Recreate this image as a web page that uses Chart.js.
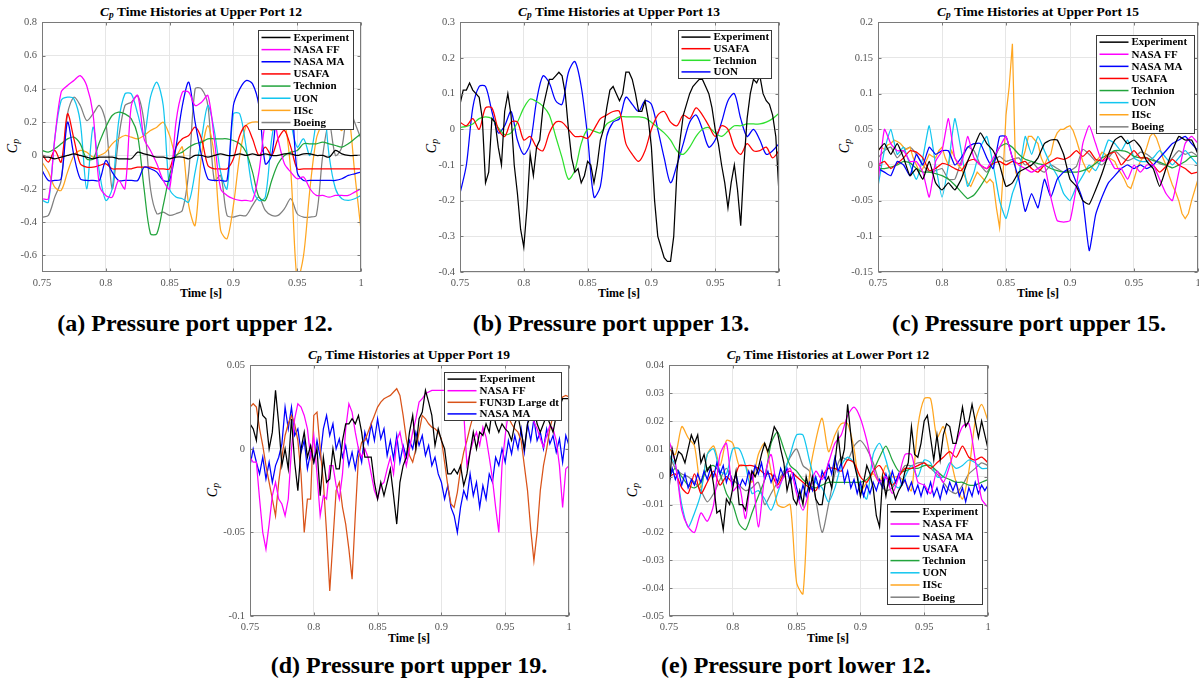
<!DOCTYPE html>
<html>
<head>
<meta charset="utf-8">
<script src="https://cdn.jsdelivr.net/npm/chart.js@4.4.1/dist/chart.umd.min.js"></script>
<style>
  body { margin: 0; background: #fff; width: 1199px; height: 681px; position: relative; overflow: hidden; font-family: "Liberation Serif", serif; }
  canvas { position: absolute; }
  .ttl { position: absolute; font-weight: bold; font-size: 13.5px; white-space: nowrap; transform: translate(-50%, -50%); }
  .xl { position: absolute; font-weight: bold; font-size: 12px; white-space: nowrap; transform: translate(-50%, -50%); }
  .yl { position: absolute; font-style: italic; font-size: 14px; white-space: nowrap; transform: translate(-50%, -50%) rotate(-90deg); }
  .cap { position: absolute; font-weight: bold; font-size: 24px; white-space: nowrap; transform: translate(-50%, -50%); }
  sub { font-size: 0.7em; vertical-align: -0.25em; }
</style>
</head>
<body>
<div class="ttl" style="left:201px;top:12px"><i>C<sub>p</sub></i> Time Histories at Upper Port 12</div>
<div class="ttl" style="left:619px;top:12px"><i>C<sub>p</sub></i> Time Histories at Upper Port 13</div>
<div class="ttl" style="left:1038px;top:12px"><i>C<sub>p</sub></i> Time Histories at Upper Port 15</div>
<div class="ttl" style="left:409px;top:355px"><i>C<sub>p</sub></i> Time Histories at Upper Port 19</div>
<div class="ttl" style="left:828px;top:355px"><i>C<sub>p</sub></i> Time Histories at Lower Port 12</div>

<div class="xl" style="left:201px;top:293px">Time [s]</div>
<div class="xl" style="left:619px;top:293px">Time [s]</div>
<div class="xl" style="left:1038px;top:293px">Time [s]</div>
<div class="xl" style="left:409px;top:638px">Time [s]</div>
<div class="xl" style="left:828px;top:638px">Time [s]</div>

<div class="yl" style="left:13px;top:146px">C<sub>p</sub></div>
<div class="yl" style="left:432px;top:146px">C<sub>p</sub></div>
<div class="yl" style="left:845px;top:146px">C<sub>p</sub></div>
<div class="yl" style="left:213px;top:490px">C<sub>p</sub></div>
<div class="yl" style="left:633px;top:490px">C<sub>p</sub></div>

<div class="cap" style="left:195px;top:323px">(a) Pressure port upper 12.</div>
<div class="cap" style="left:611px;top:323px">(b) Pressure port upper 13.</div>
<div class="cap" style="left:1029px;top:323px">(c) Pressure port upper 15.</div>
<div class="cap" style="left:409px;top:665px">(d) Pressure port upper 19.</div>
<div class="cap" style="left:796px;top:665px">(e) Pressure port lower 12.</div>

<script>
// ---------- Time grids and ticks ----------
function timeGrid(step) {
  const n = Math.round(0.25 / step);
  const out = [];
  for (let i = 0; i <= n; i++) out.push(Math.round((0.75 + i * step) * 10000) / 10000);
  return out;
}
const t5 = timeGrid(0.005);
const t25 = timeGrid(0.0025);

const timeTicks = [0.75, 0.8, 0.85, 0.9, 0.95, 1];
const up12Ticks = [-0.6, -0.4, -0.2, 0, 0.2, 0.4, 0.6, 0.8];
const up13Ticks = [-0.4, -0.3, -0.2, -0.1, 0, 0.1, 0.2, 0.3];
const up15Ticks = [-0.15, -0.1, -0.05, 0, 0.05, 0.1, 0.15, 0.2];
const up19Ticks = [-0.1, -0.05, 0, 0.05];
const lo12Ticks = [-0.05, -0.04, -0.03, -0.02, -0.01, 0, 0.01, 0.02, 0.03, 0.04];

// ---------- (a) Upper port 12 ----------
const up12Experiment = [-0.01,-0.01,-0.02,-0.01,0.0,0.01,0.0,-0.01,-0.02,-0.01,
  -0.01,-0.01,-0.02,-0.02,-0.02,0.02,0.01,0.0,-0.01,-0.01,
  -0.02,-0.01,-0.01,-0.02,0.0,0.0,-0.01,0.0,0.01,0.0,
  0.0,0.01,0.0,0.01,0.0,0.01,0.0,0.0,0.01,0.01,
  0.0,0.01,0.01,0.0,0.0,-0.01,0.03,0.01,0.0,0.0,0.0];
const up12NasaFF = [-0.26,-0.26,0.1,0.38,0.42,0.45,0.48,0.42,0.25,-0.18,
  -0.24,-0.25,-0.15,-0.2,0.3,0.36,0.1,0.03,-0.05,-0.15,
  -0.2,0.2,0.38,0.38,0.3,0.32,0.36,0.1,-0.2,-0.24,
  -0.26,-0.27,-0.27,-0.27,-0.1,0.2,0.3,0.1,-0.05,-0.1,
  -0.14,-0.13,-0.2,-0.24,-0.24,-0.25,-0.24,-0.24,-0.24,-0.22,-0.2];
const up12NasaMA = [-0.09,-0.15,-0.15,-0.14,0.2,0.0,-0.14,-0.15,-0.15,-0.15,
  -0.03,-0.1,-0.15,-0.15,-0.15,-0.15,-0.07,-0.08,-0.1,-0.15,
  -0.15,0.05,0.3,0.44,0.2,0.0,-0.14,-0.15,-0.15,-0.15,
  0.3,0.4,0.45,0.43,0.3,-0.05,0.0,0.3,0.2,0.35,
  -0.1,-0.15,-0.15,-0.15,-0.15,-0.15,-0.15,-0.14,-0.12,-0.11,-0.1];
const up12USAFA = [0.01,-0.04,0.03,-0.04,0.25,0.1,-0.05,-0.07,-0.07,-0.06,
  -0.05,-0.08,-0.08,-0.08,-0.08,-0.07,-0.07,-0.07,-0.08,-0.08,
  -0.08,0.05,0.1,0.12,0.17,0.1,-0.06,-0.08,-0.08,-0.08,
  -0.02,0.12,0.18,0.1,0.0,0.05,0.0,0.1,0.15,0.05,
  -0.08,-0.08,-0.08,-0.08,-0.08,-0.08,-0.08,-0.08,-0.08,-0.08,-0.08];
const up12Technion = [0.03,0.02,0.04,0.07,0.1,0.11,0.07,-0.02,-0.02,0.08,
  0.17,0.24,0.26,0.25,0.22,0.12,-0.2,-0.47,-0.47,-0.3,
  -0.12,0.0,0.02,0.05,0.07,0.08,0.1,0.1,0.1,0.1,
  0.09,0.07,0.02,-0.1,-0.25,-0.27,-0.15,-0.05,0.0,0.02,
  0.03,0.07,0.07,0.07,0.08,0.07,0.06,0.05,0.07,0.1,0.13];
const up12UON = [-0.27,-0.28,0.1,0.33,0.35,0.34,0.2,-0.2,0.17,-0.1,
  -0.27,-0.2,0.2,0.37,0.37,0.25,0.12,0.35,0.44,0.3,
  -0.2,-0.25,-0.26,-0.28,-0.1,0.1,0.3,0.15,-0.1,-0.2,
  0.25,0.25,0.05,-0.2,-0.27,-0.25,0.1,0.3,0.4,0.2,
  0.05,0.1,0.0,0.2,0.35,0.0,-0.2,-0.26,-0.27,-0.26,-0.24];
const up12IISc = [-0.04,-0.1,-0.19,-0.21,-0.1,0.0,0.03,0.02,-0.01,0.0,
  0.02,0.07,0.1,0.12,0.11,0.1,0.12,0.15,0.17,0.2,
  0.12,0.0,0.05,-0.3,-0.42,0.0,0.18,0.0,-0.45,-0.5,
  -0.3,0.0,0.18,0.2,0.2,0.18,0.15,0.17,0.2,-0.1,
  -0.75,-0.6,-0.2,0.1,0.2,0.28,0.2,0.15,0.25,-0.1,-0.45];
const up12Boeing = [-0.37,-0.36,-0.25,-0.15,0.25,0.35,0.3,0.21,0.25,0.3,
  0.2,-0.2,0.1,0.3,0.32,0.36,0.2,-0.2,-0.35,-0.34,
  -0.36,-0.35,-0.33,-0.1,0.4,0.4,0.3,-0.15,-0.12,-0.36,
  -0.37,-0.36,-0.36,-0.3,-0.25,-0.33,-0.36,-0.36,-0.32,-0.26,
  -0.35,-0.37,-0.37,-0.36,0.0,0.2,0.0,0.05,0.3,0.2,0.1];

// ---------- (b) Upper port 13 ----------
const up13Experiment = [0.07,0.11,0.11,0.13,0.11,0.1,0.09,0.03,-0.15,-0.12,
  0.03,0.02,-0.05,-0.1,0.05,0.1,0.04,-0.1,-0.18,-0.28,
  -0.33,-0.22,-0.07,-0.13,-0.05,-0.03,0.06,0.1,0.14,0.14,
  0.15,0.16,0.15,0.1,0.0,-0.08,-0.12,-0.11,-0.15,-0.13,
  -0.09,-0.1,-0.15,-0.1,-0.03,0.0,0.06,0.11,0.12,0.1,
  0.08,0.1,0.16,0.16,0.14,0.1,0.05,0.05,0.08,0.03,
  -0.05,-0.2,-0.3,-0.33,-0.36,-0.37,-0.37,-0.3,-0.12,-0.03,
  0.04,0.07,0.1,0.12,0.13,0.14,0.14,0.12,0.1,0.06,
  0.0,-0.04,-0.1,-0.15,-0.22,-0.15,-0.1,-0.17,-0.27,-0.1,
  0.03,0.1,0.14,0.13,0.15,0.1,0.08,0.07,0.04,-0.02,
  -0.18];
const up13USAFA = [0.02,0.01,0.03,0.0,0.06,0.06,0.0,-0.02,0.02,0.02,
  -0.03,-0.02,-0.05,-0.06,-0.01,0.02,0.02,0.0,-0.02,-0.02,
  -0.025,0.0,0.03,0.04,0.05,0.05,-0.04,-0.07,-0.09,-0.06,
  0.0,0.04,0.05,0.02,0.01,0.04,0.03,0.06,0.04,0.01,
  -0.02,0.01,0.0,-0.05,-0.07,-0.04,-0.06,-0.06,-0.05,-0.08,-0.06];
const up13Technion = [0.005,0.008,0.015,0.03,0.035,0.03,0.005,-0.015,-0.01,0.02,
  0.06,0.085,0.078,0.065,0.04,-0.02,-0.08,-0.14,-0.115,-0.04,
  0.0,-0.005,-0.01,0.015,0.025,0.035,0.035,0.035,0.035,0.032,
  0.02,0.005,-0.01,-0.03,-0.06,-0.07,-0.05,-0.02,0.0,0.005,
  -0.01,-0.02,-0.005,0.01,0.01,0.015,0.015,0.015,0.02,0.03,0.045];
const up13UON = [-0.18,-0.1,0.06,0.12,0.12,0.05,-0.01,0.01,0.05,-0.03,
  -0.07,-0.04,0.08,0.15,0.13,0.08,0.07,0.16,0.19,0.12,
  -0.02,-0.19,-0.16,-0.02,0.02,0.03,0.09,0.07,0.05,0.08,
  0.07,0.0,-0.08,-0.15,-0.1,-0.04,0.02,0.04,0.0,-0.05,
  -0.03,0.02,0.08,0.1,0.03,-0.02,0.0,-0.03,-0.07,-0.06,-0.04];

// ---------- (c) Upper port 15 ----------
const up15Experiment = [0.02,0.03,0.015,0.03,0.01,-0.015,-0.005,-0.02,0.005,-0.025,
  -0.035,-0.025,-0.035,-0.02,0.005,0.025,0.045,0.03,0.02,0.0,
  -0.03,-0.025,-0.01,-0.005,0.0,0.01,0.03,0.035,0.035,0.015,
  -0.02,-0.03,-0.05,-0.055,-0.035,-0.012,0.015,0.035,0.04,0.03,
  0.035,0.025,0.005,-0.005,-0.03,-0.005,0.02,0.04,0.035,0.035,0.015];
const up15NasaFF = [-0.025,0.05,0.03,0.02,0.02,0.005,0.005,-0.01,-0.045,0.005,
  0.02,0.065,0.01,0.0,0.04,0.01,0.0,-0.005,0.01,0.025,
  0.04,0.01,0.0,-0.005,-0.01,-0.005,0.0,-0.045,-0.078,-0.08,
  -0.078,-0.03,0.03,0.055,0.03,0.005,0.01,-0.005,-0.005,-0.02,
  0.0,-0.01,0.0,0.0,-0.02,-0.04,-0.05,-0.01,0.03,0.04,0.03];
const up15NasaMA = [-0.005,-0.01,-0.015,0.005,0.0,-0.015,0.015,0.0,0.025,0.015,
  0.02,0.02,0.0,0.01,0.025,0.03,0.03,0.01,-0.005,0.04,
  0.04,0.01,-0.02,-0.065,-0.04,-0.06,-0.02,-0.045,-0.02,-0.01,
  -0.005,-0.025,-0.05,-0.12,-0.07,-0.045,-0.025,-0.015,-0.005,0.0,
  -0.005,0.0,-0.005,0.0,0.01,0.02,0.03,0.035,0.04,0.03,0.02];
const up15USAFA = [0.0,0.005,-0.005,0.002,0.01,0.02,0.018,0.01,-0.008,-0.005,
  0.002,0.0,-0.005,-0.008,0.005,0.008,0.0,-0.005,0.002,0.005,
  0.0,0.005,0.002,0.005,-0.005,-0.01,0.0,0.005,0.01,0.008,
  0.012,0.02,0.012,0.02,0.008,0.006,0.015,0.018,0.0,0.01,
  0.02,0.01,0.01,0.0,-0.01,-0.002,0.008,0.0,-0.005,-0.012,-0.01];
const up15Technion = [-0.005,-0.005,-0.003,0.0,0.005,0.003,-0.005,-0.01,-0.01,-0.012,
  -0.015,-0.02,-0.028,-0.038,-0.047,-0.042,-0.03,-0.015,0.005,0.025,
  0.03,0.025,0.015,0.008,0.005,0.002,0.0,-0.005,-0.008,-0.01,
  -0.01,-0.01,-0.008,-0.004,0.002,0.01,0.015,0.02,0.02,0.018,
  0.012,0.01,0.01,0.006,0.004,0.0,-0.004,0.0,0.005,0.012,0.012];
const up15UON = [-0.03,0.02,0.05,0.015,0.025,0.0,-0.02,0.01,0.055,0.0,
  -0.045,0.0,0.065,0.02,-0.03,-0.01,0.025,0.04,0.0,-0.05,
  -0.075,-0.04,-0.015,0.04,0.015,0.04,0.02,0.0,-0.015,-0.04,
  -0.05,-0.03,-0.015,0.0,-0.008,0.01,0.035,0.03,0.02,0.035,
  0.01,0.005,0.005,0.01,0.02,0.01,0.0,0.01,0.02,0.01,0.0];
const up15IISc = [0.02,0.025,0.022,0.028,0.03,0.035,0.033,0.03,0.025,0.022,
  0.025,0.01,0.0,-0.01,-0.005,0.005,0.015,0.012,0.01,0.02,
  0.025,0.01,0.0,0.02,0.01,0.0,-0.005,-0.015,-0.025,-0.03,
  -0.02,-0.01,-0.015,-0.02,-0.025,-0.02,-0.025,-0.06,-0.088,-0.02,
  0.07,0.11,0.17,-0.01,-0.02,0.005,0.02,0.04,0.04,0.035,
  0.03,0.01,0.0,0.01,0.015,0.035,0.045,0.05,0.05,0.053,
  0.055,0.048,0.035,0.02,0.005,-0.005,-0.01,-0.003,0.005,0.01,
  0.018,0.015,0.01,0.008,0.005,-0.005,-0.012,-0.02,-0.03,-0.033,
  -0.02,-0.005,0.005,0.012,0.025,0.04,0.045,0.038,0.025,0.01,
  0.0,-0.015,-0.028,-0.038,-0.05,-0.068,-0.075,-0.068,-0.05,-0.035,
  -0.02];
const up15Boeing = [0.01,0.02,0.025,0.01,0.02,0.025,0.015,0.0,-0.01,-0.008,
  -0.005,-0.02,-0.02,0.005,0.025,0.02,0.0,-0.01,0.005,0.012,
  0.005,0.008,0.01,0.0,0.005,-0.005,-0.01,0.0,-0.005,-0.01,
  -0.008,-0.002,0.022,0.015,0.005,0.0,0.01,0.02,0.012,0.006,
  0.01,0.018,0.015,0.008,0.002,0.0,0.01,0.02,0.015,0.018,0.012];

// ---------- (d) Upper port 19 ----------
const up19Experiment = [0.015,0.012,0.005,0.028,0.02,0.018,0.0,0.01,0.035,0.015,
  -0.01,0.0,-0.012,0.018,-0.008,-0.025,0.0,0.01,-0.005,0.002,
  -0.008,0.0,-0.028,-0.005,-0.02,-0.018,0.0,-0.012,-0.012,0.005,
  0.015,0.015,0.018,0.015,0.02,0.01,-0.005,-0.005,-0.005,-0.02,
  -0.03,-0.02,-0.028,-0.02,-0.012,-0.028,-0.045,-0.02,-0.01,-0.005,
  0.01,0.02,0.0,0.018,0.022,0.035,0.028,0.02,0.002,0.012,
  0.005,0.0,-0.015,-0.015,-0.012,-0.015,-0.01,-0.022,-0.015,-0.002,
  0.01,0.0,0.01,0.008,0.015,0.01,0.025,0.015,0.01,0.015,
  0.012,0.01,0.005,0.015,0.02,0.01,0.0,0.015,0.02,0.025,
  0.015,0.01,0.015,0.02,0.015,0.01,0.02,0.025,0.03,0.03,
  0.03];
const up19NasaFF = [-0.005,-0.008,-0.008,-0.03,-0.05,-0.06,-0.045,-0.028,-0.02,-0.03,
  -0.033,-0.04,-0.03,0.0,0.018,0.027,0.025,0.02,0.012,-0.005,
  0.008,-0.015,-0.04,-0.028,-0.03,-0.01,-0.01,-0.022,-0.03,-0.015,
  0.012,0.027,0.022,0.01,0.0,-0.005,0.0,-0.005,-0.015,-0.025,
  -0.03,-0.022,-0.02,-0.012,-0.005,-0.015,0.005,0.01,0.0,-0.01,
  0.0,0.01,0.018,0.028,0.03,0.033,0.034,0.035,0.035,0.035,
  0.035,0.035,0.035,0.035,0.035,0.035,0.033,0.022,-0.01,-0.002,
  0.005,0.01,0.002,0.013,0.007,-0.005,-0.018,-0.035,-0.05,-0.01,
  0.008,0.022,0.03,0.034,0.035,0.033,0.03,0.026,0.022,0.016,
  0.012,0.006,0.001,0.008,0.014,0.012,0.005,-0.01,-0.035,-0.012,
  -0.01];
const up19FUN3D = [0.025,0.027,0.025,0.012,0.002,-0.01,-0.02,-0.03,-0.04,-0.02,
  -0.005,0.008,0.015,0.02,0.015,0.005,-0.015,-0.05,-0.03,-0.03,
  0.02,0.022,0.0,-0.02,-0.05,-0.085,-0.055,-0.025,-0.02,-0.035,
  -0.045,-0.06,-0.078,-0.04,-0.005,0.004,0.005,0.01,0.015,0.02,
  0.025,0.028,0.03,0.031,0.032,0.034,0.036,0.032,0.02,0.006,
  -0.004,-0.008,0.0,0.01,0.02,0.018,0.015,0.013,0.012,0.01,
  0.006,-0.008,-0.022,-0.033,-0.035,-0.026,-0.012,-0.002,0.005,0.013,
  0.02,0.026,0.03,0.034,0.035,0.035,0.033,0.031,0.028,0.025,
  0.022,0.019,0.015,0.012,0.01,0.005,-0.01,-0.025,-0.048,-0.067,
  -0.05,-0.025,-0.01,0.0,0.012,0.02,0.025,0.028,0.031,0.032,
  0.031];
const up19NasaMA = [-0.01,0.0,-0.008,-0.015,-0.005,-0.018,-0.008,-0.02,-0.01,-0.005,
  0.003,0.025,0.012,0.025,0.008,0.012,-0.002,0.005,-0.012,-0.002,
  -0.008,0.005,-0.005,0.012,0.02,0.008,0.015,0.0,0.006,-0.005,
  0.002,-0.01,-0.002,-0.012,0.0,-0.008,0.01,0.003,0.015,0.005,
  0.018,0.006,0.012,-0.004,0.005,-0.006,0.008,-0.008,0.002,-0.005,
  0.005,0.0,0.01,0.002,0.008,-0.004,0.002,-0.01,-0.005,-0.015,
  -0.02,-0.03,-0.022,-0.035,-0.04,-0.05,-0.035,-0.025,-0.03,-0.015,
  -0.028,-0.02,-0.035,-0.022,-0.03,-0.015,-0.02,-0.005,-0.01,0.0,
  -0.008,0.005,-0.003,0.008,0.0,0.012,-0.002,0.015,0.005,0.018,
  0.005,0.01,0.0,0.012,0.003,0.008,-0.002,0.006,-0.008,0.008,
  0.002];

// ---------- (e) Lower port 12 ----------
const lo12Experiment = [-0.005,0.01,0.005,0.009,0.008,0.005,0.01,0.015,0.012,0.015,
  0.005,0.008,0.002,0.004,-0.003,-0.013,-0.012,-0.019,-0.008,-0.01,
  -0.004,0.002,-0.01,-0.01,-0.012,-0.005,0.002,0.0,0.003,0.008,
  0.012,0.009,0.013,0.018,0.016,0.01,0.005,-0.005,0.0,-0.008,
  -0.01,-0.005,-0.01,0.0,-0.005,0.0,-0.008,-0.01,-0.01,-0.002,
  0.0,-0.004,0.005,0.015,0.005,0.01,0.026,0.015,0.005,0.0,
  -0.007,-0.002,0.004,0.001,-0.004,-0.014,-0.018,0.0,-0.007,0.0,
  -0.004,-0.008,-0.005,-0.003,0.002,0.005,0.018,0.008,0.007,0.012,
  0.02,0.022,0.014,0.006,0.015,0.006,0.015,0.019,0.018,0.012,
  0.012,0.018,0.025,0.018,0.02,0.026,0.02,0.014,0.02,0.015,
  0.01];
const lo12NasaFF = [0.013,0.005,-0.012,-0.018,-0.02,-0.013,-0.016,-0.01,0.008,0.012,
  -0.005,-0.003,-0.015,0.002,-0.018,0.0,0.008,-0.004,0.0,0.003,
  -0.006,-0.012,-0.005,0.002,-0.001,0.005,0.012,0.015,0.022,0.025,
  0.021,0.013,0.003,-0.002,0.0,-0.006,0.0,0.008,0.008,-0.002,
  -0.003,-0.006,0.002,-0.002,0.004,0.012,0.018,0.019,0.006,-0.008,-0.011];
const lo12NasaMA = [-0.002,0.003,-0.001,0.002,-0.003,0.001,-0.004,-0.001,-0.003,0.001,
  -0.002,0.002,-0.001,0.003,0.0,0.005,0.001,0.004,-0.002,0.002,
  -0.003,0.001,-0.004,-0.001,-0.003,0.002,-0.001,0.004,0.001,0.005,
  -0.001,0.002,-0.002,0.001,-0.002,0.003,0.0,0.003,-0.002,0.001,
  -0.004,-0.008,-0.003,-0.007,-0.002,-0.005,0.0,-0.004,0.002,-0.001,
  0.005,0.001,0.007,0.002,0.005,-0.002,0.002,-0.004,-0.001,-0.006,
  -0.002,-0.007,-0.003,-0.006,-0.002,-0.005,-0.001,-0.004,0.001,-0.003,
  0.002,-0.002,0.001,-0.003,-0.001,-0.005,-0.002,-0.006,-0.003,-0.007,
  -0.003,-0.006,-0.002,-0.007,-0.004,-0.008,-0.003,-0.006,-0.002,-0.005,
  -0.002,-0.007,-0.004,-0.009,-0.004,-0.007,-0.002,-0.006,-0.003,-0.005,
  -0.003];
const lo12USAFA = [0.0,0.001,-0.004,-0.006,0.001,-0.006,-0.002,0.002,-0.003,0.0,
  -0.002,0.004,0.004,0.004,0.003,0.001,0.001,-0.003,0.001,0.002,
  0.0,-0.002,-0.004,-0.005,0.0,0.003,0.003,0.002,0.006,0.005,
  0.0,-0.002,0.002,0.004,0.0,-0.003,0.0,0.003,0.003,0.004,
  0.005,0.003,0.005,0.007,0.009,0.007,0.011,0.007,0.006,0.007,0.005];
const lo12Technion = [0.0,0.003,0.0,-0.003,-0.004,-0.002,0.003,0.004,0.001,-0.006,
  -0.01,-0.017,-0.019,-0.013,-0.007,-0.001,0.012,0.016,0.01,0.004,
  0.002,-0.001,-0.003,-0.004,-0.003,-0.002,-0.002,-0.002,-0.002,-0.002,
  -0.002,-0.001,0.002,0.007,0.011,0.006,0.002,0.002,0.003,0.003,
  0.004,0.004,0.002,0.0,-0.001,-0.002,-0.002,-0.003,-0.003,-0.002,-0.001];
const lo12UON = [0.008,0.004,-0.01,-0.018,-0.013,-0.006,0.008,0.01,0.002,0.001,
  0.01,0.01,0.004,-0.006,-0.005,-0.008,-0.012,-0.006,0.001,0.008,
  0.015,0.015,0.006,-0.002,-0.004,-0.009,-0.004,0.004,0.007,0.005,
  -0.004,-0.008,0.008,0.012,0.006,-0.002,-0.004,0.0,0.004,0.0,
  0.006,0.005,0.0,0.0,0.005,0.003,0.004,0.006,0.005,0.003,0.003];
const lo12IISc = [0.01,0.008,0.018,0.014,0.011,-0.004,0.008,0.011,0.004,0.013,
  0.012,0.004,0.004,-0.002,0.008,0.012,0.002,-0.01,-0.011,-0.01,
  -0.038,-0.042,0.0,0.013,0.021,0.009,0.015,0.019,0.019,0.01,
  -0.005,-0.002,0.001,-0.002,0.004,0.0,0.0,-0.002,-0.005,0.018,
  0.028,0.028,0.014,0.018,0.008,-0.002,-0.008,0.002,0.02,0.026,0.02];
const lo12Boeing = [0.008,0.003,0.001,0.0,-0.002,-0.005,-0.009,-0.006,-0.001,0.003,
  -0.001,-0.003,-0.005,-0.004,-0.002,-0.01,-0.006,-0.002,0.002,0.007,
  0.01,0.004,0.002,-0.008,-0.02,-0.01,0.001,0.007,0.006,0.011,
  0.013,0.01,0.005,-0.002,-0.005,-0.004,0.0,0.004,0.004,0.005,
  0.005,0.003,0.001,-0.002,-0.005,-0.006,-0.003,0.001,0.003,0.005,0.004];

// ---------- Colours ----------
const colors = {
  'Experiment': '#000000',
  'NASA FF': '#ff00ff',
  'NASA MA': '#0000ff',
  'USAFA': '#ff0000',
  'Technion': '#22a43c',
  'UON': '#12c6ef',
  'IISc': '#ffa620',
  'Boeing': '#7f7f7f',
  'FUN3D Large dt': '#d95319'
};

// ---------- Plugin: axes box, inner tick marks, legend ----------
const boxLegend = {
  id: 'boxLegend',
  afterDatasetsDraw(chart, args, opts) {
    const ctx = chart.ctx;
    const a = chart.chartArea;
    const L = Math.round(a.left) + 0.5, T = Math.round(a.top) + 0.5;
    const R = Math.round(a.right) - 0.5, B = Math.round(a.bottom) - 0.5;
    ctx.save();
    ctx.strokeStyle = '#7a7a7a';
    ctx.lineWidth = 1;
    ctx.strokeRect(L, T, R - L, B - T);

    // small tick marks pointing into the plot, as in the original
    ctx.beginPath();
    chart.scales.x.ticks.forEach(tk => {
      const px = Math.round(chart.scales.x.getPixelForValue(tk.value)) + 0.5;
      ctx.moveTo(px, B); ctx.lineTo(px, B - 3);
      ctx.moveTo(px, T); ctx.lineTo(px, T + 3);
    });
    chart.scales.y.ticks.forEach(tk => {
      const py = Math.round(chart.scales.y.getPixelForValue(tk.value)) + 0.5;
      ctx.moveTo(L, py); ctx.lineTo(L + 3, py);
      ctx.moveTo(R, py); ctx.lineTo(R - 3, py);
    });
    ctx.stroke();

    const b = opts.box;
    const x = Math.round(a.left + b.x) + 0.5;
    const y = Math.round(a.top + b.y) + 0.5;
    ctx.fillStyle = '#fff';
    ctx.fillRect(x, y, b.w, b.h);
    ctx.strokeStyle = '#3a3a3a';
    ctx.strokeRect(x, y, b.w, b.h);
    const items = chart.data.datasets;
    const y0 = y + (b.h - items.length * b.rowH) / 2 + b.rowH / 2;
    ctx.font = 'bold 11px "Liberation Serif", serif';
    ctx.textBaseline = 'middle';
    items.forEach((ds, i) => {
      const yy = y0 + i * b.rowH;
      ctx.strokeStyle = ds.borderColor;
      ctx.lineWidth = 1.5;
      ctx.beginPath();
      ctx.moveTo(x + 3, yy);
      ctx.lineTo(x + 32, yy);
      ctx.stroke();
      ctx.fillStyle = '#000';
      ctx.fillText(ds.label, x + 35, yy + 0.5);
    });
    ctx.restore();
  }
};

const fmt = v => String(Math.round(v * 1000) / 1000);
const tickFont = { family: '"Liberation Serif", serif', size: 10.5 };

function makePanel(p) {
  const YW = 40, PT = 10, PR = 10, XH = 22;
  const canvas = document.createElement('canvas');
  canvas.width = YW + p.plotW + PR;
  canvas.height = PT + p.plotH + XH;
  canvas.style.left = (p.left - YW) + 'px';
  canvas.style.top = (p.top - PT) + 'px';
  document.body.appendChild(canvas);

  const datasets = p.series.map(s => ({
    label: s.label,
    data: s.y.map((v, i) => ({ x: s.t[i], y: v })),
    borderColor: s.color || colors[s.label],
    borderWidth: 1.25,
    pointRadius: 0,
    tension: s.t === t25 ? 0 : p.tension,
    fill: false
  }));

  new Chart(canvas, {
    type: 'line',
    data: { datasets },
    options: {
      responsive: false,
      animation: false,
      devicePixelRatio: 1,
      events: [],
      layout: { padding: { top: PT, right: PR, left: 0, bottom: 0 } },
      plugins: {
        legend: { display: false },
        tooltip: { enabled: false },
        boxLegend: { box: p.legend }
      },
      scales: {
        x: {
          type: 'linear', min: 0.75, max: 1,
          afterBuildTicks: s => { s.ticks = timeTicks.map(v => ({ value: v })); },
          afterFit: s => { s.height = XH; },
          grid: { color: '#e6e6e6', drawTicks: false },
          border: { display: false },
          ticks: { padding: 5, color: '#555', font: tickFont, maxRotation: 0, autoSkip: false, callback: fmt }
        },
        y: {
          type: 'linear', min: p.yMin, max: p.yMax,
          afterBuildTicks: s => { s.ticks = p.yTicks.map(v => ({ value: v })); },
          afterFit: s => { s.width = YW; },
          grid: { color: '#e6e6e6', drawTicks: false },
          border: { display: false },
          ticks: { padding: 5, color: '#555', font: tickFont, autoSkip: false, callback: fmt }
        }
      }
    },
    plugins: [boxLegend]
  });
}

makePanel({
  left: 42, top: 21, plotW: 319, plotH: 251, yMin: -0.7, yMax: 0.8, yTicks: up12Ticks, tension: 0.3,
  legend: { x: 216, y: 8, w: 95, h: 99, rowH: 12.15 },
  series: [
    { label: 'Experiment', t: t5, y: up12Experiment },
    { label: 'NASA FF', t: t5, y: up12NasaFF },
    { label: 'NASA MA', t: t5, y: up12NasaMA },
    { label: 'USAFA', t: t5, y: up12USAFA },
    { label: 'Technion', t: t5, y: up12Technion },
    { label: 'UON', t: t5, y: up12UON },
    { label: 'IISc', t: t5, y: up12IISc },
    { label: 'Boeing', t: t5, y: up12Boeing }
  ]
});

makePanel({
  left: 460, top: 21, plotW: 319, plotH: 251, yMin: -0.4, yMax: 0.3, yTicks: up13Ticks, tension: 0.3,
  legend: { x: 218, y: 8, w: 93, h: 48, rowH: 11.6 },
  series: [
    { label: 'Experiment', t: t25, y: up13Experiment },
    { label: 'USAFA', t: t5, y: up13USAFA },
    { label: 'Technion', t: t5, y: up13Technion, color: '#2ee02e' },
    { label: 'UON', t: t5, y: up13UON, color: '#0000ff' }
  ]
});

makePanel({
  left: 878, top: 21, plotW: 320, plotH: 251, yMin: -0.15, yMax: 0.2, yTicks: up15Ticks, tension: 0.15,
  legend: { x: 218, y: 13, w: 98, h: 98, rowH: 12.1 },
  series: [
    { label: 'Experiment', t: t5, y: up15Experiment },
    { label: 'NASA FF', t: t5, y: up15NasaFF },
    { label: 'NASA MA', t: t5, y: up15NasaMA },
    { label: 'USAFA', t: t5, y: up15USAFA },
    { label: 'Technion', t: t5, y: up15Technion },
    { label: 'UON', t: t5, y: up15UON },
    { label: 'IISc', t: t25, y: up15IISc },
    { label: 'Boeing', t: t5, y: up15Boeing }
  ]
});

makePanel({
  left: 250, top: 364, plotW: 319, plotH: 252, yMin: -0.1, yMax: 0.05, yTicks: up19Ticks, tension: 0,
  legend: { x: 194, y: 7, w: 117, h: 48, rowH: 11.6 },
  series: [
    { label: 'Experiment', t: t25, y: up19Experiment },
    { label: 'NASA FF', t: t25, y: up19NasaFF },
    { label: 'FUN3D Large dt', t: t25, y: up19FUN3D },
    { label: 'NASA MA', t: t25, y: up19NasaMA }
  ]
});

makePanel({
  left: 669, top: 364, plotW: 319, plotH: 252, yMin: -0.05, yMax: 0.04, yTicks: lo12Ticks, tension: 0.25,
  legend: { x: 218, y: 139, w: 95, h: 100, rowH: 12.2 },
  series: [
    { label: 'Experiment', t: t25, y: lo12Experiment },
    { label: 'NASA FF', t: t5, y: lo12NasaFF },
    { label: 'NASA MA', t: t25, y: lo12NasaMA },
    { label: 'USAFA', t: t5, y: lo12USAFA },
    { label: 'Technion', t: t5, y: lo12Technion },
    { label: 'UON', t: t5, y: lo12UON },
    { label: 'IISc', t: t5, y: lo12IISc },
    { label: 'Boeing', t: t5, y: lo12Boeing }
  ]
});
</script>
</body>
</html>
